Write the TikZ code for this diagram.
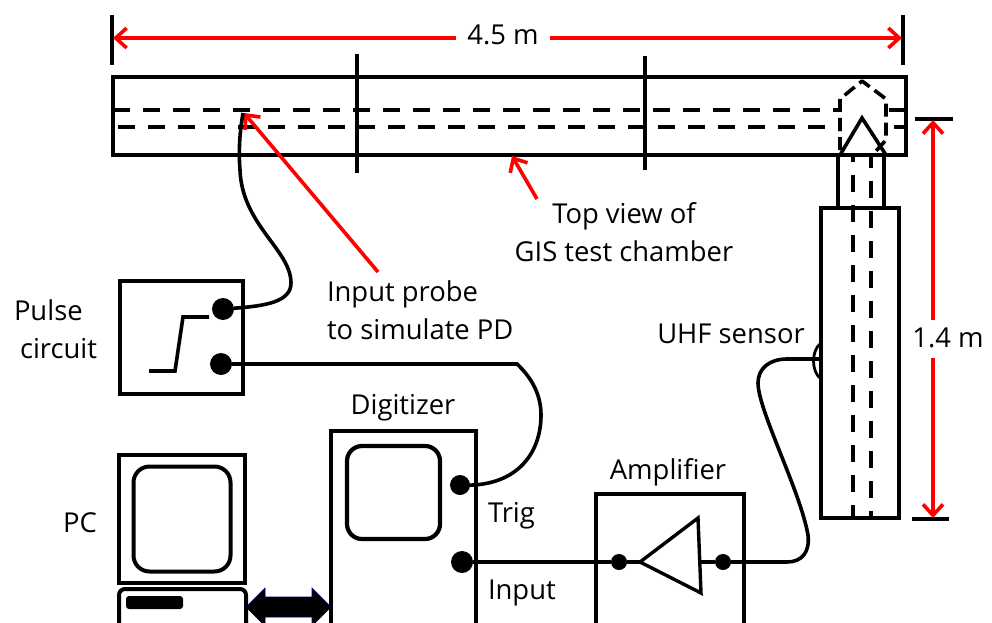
\documentclass[tikz,border=0pt]{standalone}
\usepackage{fontspec}
\setmainfont{Open Sans}
\usetikzlibrary{arrows.meta}
\definecolor{myred}{RGB}{255,0,0}
\tikzset{
  every node/.style={outer sep=0pt},
  lbl/.style={font=\fontsize{27.4}{38}\selectfont,text=black,inner sep=0pt},
  box/.style={draw=black,line width=4.4pt,fill=none,inner sep=0pt,rectangle},
  dot/.style={circle,fill=black,draw=none,inner sep=0pt,minimum size=#1},
  wire/.style={draw=black,line width=3.6pt},
  dash line/.style={draw=black,line width=3.4pt,dash pattern=on 17pt off 13pt},
  redone/.style={draw=myred,line width=3.6pt,-{Straight Barb[length=11pt,width=20pt,line width=3.6pt]}},
}
\begin{document}
\begin{tikzpicture}[x=1pt,y=-1pt]
\useasboundingbox (0,0) rectangle (992,623);
% chamber
\node[box,minimum width=793pt,minimum height=78pt,anchor=north west] (chamber) at (113,77) {};
\coordinate (dl1) at (113,110); \coordinate (dr1) at (840,110);
\coordinate (dl2) at (113,127); \coordinate (dr2) at (840,127);
\draw[dash line,dash phase=0pt] (dl1) -- (dr1);
\draw[dash line,dash phase=25pt] (dl2) -- (dr2);
\coordinate (e1a) at (889,110); \coordinate (e1b) at (906,110);
\coordinate (e2a) at (894,127); \coordinate (e2b) at (906,127);
\draw[line width=3.4pt] (e1a) -- (e1b);
\draw[line width=3.4pt] (e2a) -- (e2b);
% section ticks
\coordinate (s1t) at (357,54); \coordinate (s1b) at (357,173);
\coordinate (s2t) at (645,56); \coordinate (s2b) at (645,170);
\draw[line width=3.4pt] (s1t) -- (s1b);
\draw[line width=3.4pt] (s2t) -- (s2b);
% dimension 4.5 m
\coordinate (dimL) at (112,15); \coordinate (dimLb) at (112,65);
\coordinate (dimR) at (903,15); \coordinate (dimRb) at (903,65);
\draw[line width=3.4pt] (dimL) -- (dimLb);
\draw[line width=3.4pt] (dimR) -- (dimRb);
\node[lbl] (len) at (503,35) {4.5 m};
\coordinate (aL) at (113,38); \coordinate (aR) at (902,38);
\coordinate (lenw) at (456,38); \coordinate (lene) at (550,38);
\draw[redone] (lenw) -- (aL);
\draw[redone] (lene) -- (aR);
% hex dashed dome
\draw[draw=black,line width=3.6pt,dash pattern=on 13pt off 6pt,line join=round]
  (840,150) -- (840,99) -- (862,81) -- (886,99) -- (886,140) -- (876,151);
% cone
\coordinate (conel) at (840,155); \coordinate (coner) at (886,155); \coordinate (conet) at (862,118);
\draw[line width=3.6pt,line join=miter] (conel) -- (conet) -- (coner);
% stem
\coordinate (st1) at (838,155); \coordinate (st1b) at (838,208);
\coordinate (st2) at (884,155); \coordinate (st2b) at (884,208);
\draw[line width=3.6pt] (st1) -- (st1b);
\draw[line width=3.6pt] (st2) -- (st2b);
% sensor body
\node[box,minimum width=78pt,minimum height=310pt,anchor=north west] (body) at (821,208) {};
\coordinate (c1t) at (853,157); \coordinate (c1b) at (853,518);
\coordinate (c2t) at (871,157); \coordinate (c2b) at (871,518);
\draw[line width=3.4pt,dash pattern=on 17pt off 13pt,dash phase=12pt] (c1t) -- (c1b);
\draw[line width=3.4pt,dash pattern=on 17pt off 13pt,dash phase=6pt] (c2t) -- (c2b);
% 1.4 m
\coordinate (t1) at (915,119); \coordinate (t2) at (953,119);
\coordinate (b1) at (912,519); \coordinate (b2) at (949,519);
\draw[line width=3.2pt] (t1) -- (t2);
\draw[line width=3.2pt] (b1) -- (b2);
\node[lbl] (h) at (948,338) {1.4 m};
\coordinate (aT) at (933,120); \coordinate (aB) at (933,518);
\coordinate (hT) at (933,320); \coordinate (hB) at (933,358);
\draw[redone] (hT) -- (aT);
\draw[redone] (hB) -- (aB);
% labels
\node[lbl,align=center] (top) at (624,232) {Top view of\\GIS test chamber};
\coordinate (topa) at (537,199); \coordinate (topb) at (512,156);
\draw[redone] (topa) -- (topb);
\node[lbl,align=left,anchor=west] (probe) at (327,310) {Input probe\\to simulate PD};
\coordinate (pra) at (378,272); \coordinate (prb) at (244,113);
\draw[redone] (pra) -- (prb);
% pulse circuit
\node[lbl,align=left,anchor=west] (pulse) at (14,329.5) {Pulse\\\hspace*{6pt}circuit};
\node[box,minimum width=123pt,minimum height=113pt,anchor=north west] (pbox) at (120,281) {};
\node[dot=22pt] (pd1) at (223,309) {};
\node[dot=22pt] (pd2) at (221,364) {};
\coordinate (st0) at (149,371); \coordinate (st3) at (175,371); \coordinate (st4) at (183,317); \coordinate (st5) at (209,317);
\draw[line width=3.6pt] (st0) -- (st3) -- (st4) -- (st5);
\coordinate (probeend) at (243,113);
\draw[wire] (pd1) .. controls (265,306) and (291,302) .. (291,283)
  .. controls (291,250) and (242,225) .. (240,170) .. controls (238,145) and (241,125) .. (probeend);
\coordinate (bend) at (517,364);
\draw[wire] (pd2) -- (bend) .. controls (532,378) and (541,395) .. (541,415)
  .. controls (541,455) and (515,488) .. (460,485);
% digitizer
\node[lbl] (dig) at (403,408) {Digitizer};
\coordinate (dtl) at (331,623); \coordinate (dtl2) at (331,431); \coordinate (dtr) at (476,431); \coordinate (dtr2) at (476,623);
\draw[line width=4.2pt,line join=miter] (dtl) -- (dtl2) -- (dtr) -- (dtr2);
\node[draw=black,line width=4.2pt,rounded corners=15pt,minimum width=93pt,minimum height=93pt,anchor=north west,inner sep=0pt] (dscr) at (347,446) {};
\node[dot=20pt] (trig) at (460,485) {};
\node[dot=22pt] (inp) at (462,562) {};
\node[lbl,anchor=west] (tl) at (488,516) {Trig};
\node[lbl,anchor=west] (il) at (488,593) {Input};
% amplifier
\node[lbl] (ampl) at (668,472) {Amplifier};
\coordinate (atl) at (596,623); \coordinate (atl2) at (596,494); \coordinate (atr) at (744,494); \coordinate (atr2) at (744,623);
\draw[line width=4.2pt,line join=miter] (atl) -- (atl2) -- (atr) -- (atr2);
\node[dot=16pt] (ad1) at (619,562) {};
\node[dot=16pt] (ad2) at (723,562) {};
\coordinate (tl1) at (640,562); \coordinate (tr1) at (698,518); \coordinate (tr2) at (701,593); \coordinate (tro) at (700,562);
\draw[line width=3.4pt,line join=miter] (tl1) -- (tr1) -- (tr2) -- cycle;
\draw[line width=3.4pt] (inp) -- (ad1) -- (tl1);
\draw[line width=3.4pt] (tro) -- (ad2);
\coordinate (w1) at (787,562);
\coordinate (w2) at (787,359);
\node[lbl] (uhf) at (731,334) {UHF sensor};
\coordinate (cap1) at (821,343); \coordinate (cap2) at (821,379);
\draw[line width=2.8pt] (cap1) .. controls (811,350) and (811,372) .. (cap2);
\draw[wire] (ad2) -- (w1) .. controls (802,562) and (810,552) .. (808,535)
  .. controls (800,490) and (758,410) .. (758,383) .. controls (758,368) and (770,359) .. (w2) -- (821,359);
% PC
\node[lbl] (pc) at (80,523) {PC};
\node[box,line width=4.6pt,minimum width=126pt,minimum height=128pt,anchor=north west] (mon) at (119,455) {};
\node[draw=black,line width=4pt,rounded corners=16pt,minimum width=97pt,minimum height=105pt,anchor=north west,inner sep=0pt] (scr) at (133.5,466.5) {};
\node[draw=black,line width=4pt,rounded corners=6pt,minimum width=127pt,minimum height=50pt,anchor=north west,inner sep=0pt] (base) at (119,589) {};
\node[draw=none,fill=black,rounded corners=3pt,minimum width=57pt,minimum height=13pt,anchor=north west,inner sep=0pt] (slot) at (126,596) {};
% double arrow
\coordinate (da1) at (246,607); \coordinate (da2) at (331,607);
\fill[black,draw=black!60!blue,line width=0.6pt] (da1) -- (265,588) -- (265,597) -- (312,597) -- (312,588) -- (da2) -- (312,626) -- (312,617) -- (265,617) -- (265,626) -- cycle;
\end{tikzpicture}
\end{document}
